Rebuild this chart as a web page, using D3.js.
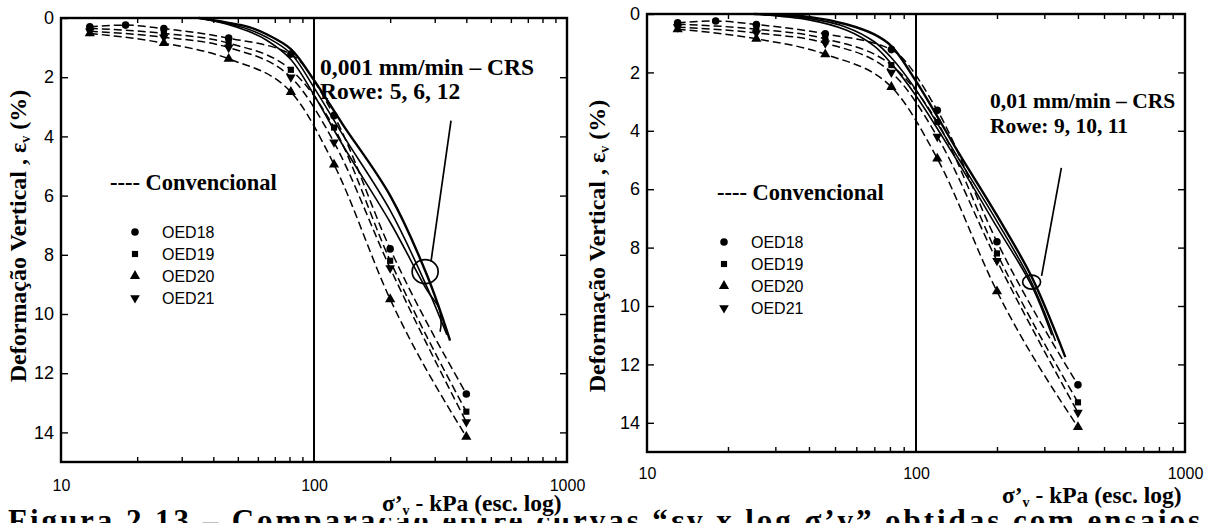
<!DOCTYPE html>
<html><head><meta charset="utf-8">
<script src="https://cdn.jsdelivr.net/npm/d3@7"></script>
<style>body{margin:0;background:#fff} svg{display:block}</style>
</head><body>
<svg id="chart" width="1217" height="523"></svg>
<script>
// conventional tests (same curves in both panels)
var loads = [13, 18, 25.5, 46, 81, 120, 200, 400];
var oed18 = [0.30, 0.24, 0.36, 0.68, 1.22, 3.3, 7.8, 12.7];
var oed19 = [0.35, null, 0.52, 0.85, 1.75, 3.7, 8.2, 13.3];
var oed20 = [0.52, null, 0.85, 1.38, 2.5, 4.95, 9.5, 14.15];
var oed21 = [0.45, null, 0.65, 1.0, 2.0, 4.2, 8.45, 13.65];

// CRS 0,001 mm/min (left)
var rowe5Loads = [35, 45, 55, 65, 81, 100, 130, 200, 280, 345];
var rowe5 = [0, 0.15, 0.3, 0.55, 1.05, 2.1, 3.6, 6.0, 8.7, 10.9];
var rowe6Loads = [35, 45, 55, 65, 81, 100, 130, 200, 280, 335];
var rowe6 = [0, 0.18, 0.38, 0.65, 1.2, 2.35, 3.95, 6.5, 9.1, 10.7];
var rowe12Loads = [35, 45, 55, 65, 81, 100, 130, 200, 280, 312, 318, 315];
var rowe12 = [0, 0.2, 0.45, 0.75, 1.4, 2.6, 4.3, 6.9, 9.2, 9.8, 10.3, 10.6];

// CRS 0,01 mm/min (right)
var rowe9Loads = [25, 40, 55, 70, 81, 100, 145, 200, 269, 359];
var rowe9 = [0, 0.1, 0.35, 0.7, 1.1, 2.3, 4.8, 6.9, 9.0, 11.75];
var rowe10Loads = [25, 40, 55, 70, 81, 100, 145, 200, 269, 330];
var rowe10 = [0, 0.15, 0.45, 0.95, 1.5, 2.6, 5.0, 7.1, 9.2, 11.2];
var rowe11Loads = [25, 40, 55, 70, 81, 100, 145, 200, 269, 320];
var rowe11 = [0, 0.2, 0.55, 1.1, 1.7, 2.8, 5.15, 7.3, 9.3, 11.0];

var yTicks = [0, 2, 4, 6, 8, 10, 12, 14];
var xLabels = [10, 100, 1000];
var xMinor = [20, 30, 40, 50, 60, 70, 80, 90, 200, 300, 400, 500, 600, 700, 800, 900];
var seriesNames = ["OED18", "OED19", "OED20", "OED21"];
var seriesShapes = [d3.symbolCircle, d3.symbolSquare, d3.symbolTriangle, "down"];

var svg = d3.select("#chart");
var serif = "'Liberation Serif', 'Times New Roman', serif";
var sans = "'Liberation Sans', Arial, sans-serif";

function zip(xs, ys) {
    var out = [];
    for (var i = 0; i < xs.length; i++) if (ys[i] != null) out.push([xs[i], ys[i]]);
    return out;
}

function marker(g, shape, cx, cy) {
    if (shape === "down") {
        g.append("path").attr("d", d3.symbol(d3.symbolTriangle, 40)())
            .attr("transform", "translate(" + cx + "," + cy + ") rotate(180)").attr("fill", "#000");
    } else {
        var size = shape === d3.symbolSquare ? 38 : 45;
        g.append("path").attr("d", d3.symbol(shape, size)())
            .attr("transform", "translate(" + cx + "," + cy + ")").attr("fill", "#000");
    }
}

// caption, cut off at the bottom of the picture
svg.append("text").attr("x", 8).attr("y", 531)
    .attr("textLength", 1192).attr("lengthAdjust", "spacing")
    .style("font", "bold 31px " + serif)
    .text("Figura 2.13 – Comparação entre curvas “εv x log σ’v” obtidas com ensaios");

function panel(p) {
    var x = d3.scaleLog().domain([10, 1000]).range([p.x0, p.x1]);
    var y = d3.scaleLinear().domain([0, 15]).range([p.y0, p.y1]);
    var g = svg.append("g");

    // ticks
    g.append("g").attr("transform", "translate(0," + p.y1 + ")")
        .call(d3.axisBottom(x).tickValues(xMinor).tickSize(-5).tickFormat(""));
    g.append("g").attr("transform", "translate(0," + p.y0 + ")")
        .call(d3.axisTop(x).tickValues(xMinor).tickSize(-5).tickFormat(""));
    g.append("g").attr("transform", "translate(0," + p.y1 + ")")
        .call(d3.axisBottom(x).tickValues(xLabels).tickSize(0).tickPadding(p.xPad).tickFormat(d3.format("d")))
        .selectAll("text").style("font", "16px " + sans);
    g.append("g").attr("transform", "translate(" + p.x0 + ",0)")
        .call(d3.axisLeft(y).tickValues(yTicks).tickSize(-7).tickPadding(7))
        .selectAll("text").style("font", "18px " + sans);
    g.append("g").attr("transform", "translate(" + p.x1 + ",0)")
        .call(d3.axisRight(y).tickValues(yTicks.slice(1)).tickSize(-7).tickFormat(""));
    g.selectAll(".domain").remove();
    g.selectAll(".tick line").attr("stroke", "#000").attr("stroke-width", 1.4);

    g.append("rect").attr("x", p.x0).attr("y", p.y0)
        .attr("width", p.x1 - p.x0).attr("height", p.y1 - p.y0)
        .attr("fill", "none").attr("stroke", "#000").attr("stroke-width", 2.4);
    g.append("line").attr("x1", x(100)).attr("x2", x(100)).attr("y1", p.y0).attr("y2", p.y1)
        .attr("stroke", "#000").attr("stroke-width", 2);

    var line = d3.line().x(function (d) { return x(d[0]); }).y(function (d) { return y(d[1]); });

    // conventional, dashed
    [oed18, oed19, oed20, oed21].forEach(function (vals, i) {
        var pts = zip(loads, vals);
        g.append("path").attr("d", line.curve(d3.curveMonotoneX)(pts))
            .attr("fill", "none").attr("stroke", "#000").attr("stroke-width", 1.5)
            .attr("stroke-dasharray", "8,4");
        pts.forEach(function (d) { marker(g, seriesShapes[i], x(d[0]), y(d[1])); });
    });

    // CRS, solid
    p.crs.forEach(function (c, i) {
        g.append("path").attr("d", line.curve(d3.curveCatmullRom)(zip(c[0], c[1])))
            .attr("fill", "none").attr("stroke", "#000").attr("stroke-width", i === 0 ? 2.4 : 1.6);
    });

    // annotation
    g.append("line").attr("x1", x(p.lead[0])).attr("y1", y(p.lead[1]))
        .attr("x2", x(p.lead[2])).attr("y2", y(p.lead[3]))
        .attr("stroke", "#000").attr("stroke-width", 1.7);
    g.append("ellipse").attr("cx", x(p.ell[0])).attr("cy", y(p.ell[1]))
        .attr("rx", p.ell[2]).attr("ry", p.ell[3])
        .attr("fill", "none").attr("stroke", "#000").attr("stroke-width", 1.7);
    g.append("text").attr("x", p.noteX).attr("y", p.noteY).style("font", "bold " + p.noteSize + "px " + serif).text(p.note1);
    g.append("text").attr("x", p.noteX).attr("y", p.noteY + p.noteGap).style("font", "bold " + p.noteSize + "px " + serif).text(p.note2);

    // legend
    g.append("text").attr("x", p.legX).attr("y", p.legY).style("font", "bold 22.5px " + serif)
        .text("---- Convencional");
    seriesNames.forEach(function (n, i) {
        var cy = p.legY + 42 + i * 22;
        marker(g, seriesShapes[i], p.legX + p.mkX, cy);
        g.append("text").attr("x", p.legX + p.mkX + 27).attr("y", cy + 6)
            .style("font", "16px " + sans).text(n);
    });

    // axis titles
    var yt = g.append("text").attr("transform", "translate(" + p.ytX + "," + p.ytY + ") rotate(-90)")
        .attr("text-anchor", "middle").style("font", "bold 24px " + serif);
    yt.append("tspan").text("Deformação Vertical , ε");
    yt.append("tspan").attr("dy", 4).style("font-size", "14px").text("v");
    yt.append("tspan").attr("dy", -4).text(" (%)");

    if (p.whiteBox) {
        g.append("rect").attr("x", p.xtX - 4).attr("y", p.xtY - 19).attr("width", 190).attr("height", 26).attr("fill", "#fff");
    }
    var xt = g.append("text").attr("x", p.xtX).attr("y", p.xtY).style("font", "bold 23.5px " + serif);
    xt.append("tspan").text("σ’");
    xt.append("tspan").attr("dy", 4).style("font-size", "14px").text("v");
    xt.append("tspan").attr("dy", -4).text(" - kPa (esc. log)");
}

panel({
    x0: 61, x1: 567, y0: 18, y1: 462, xPad: 18,
    crs: [[rowe5Loads, rowe5], [rowe6Loads, rowe6], [rowe12Loads, rowe12]],
    lead: [348, 3.47, 290, 8.23], ell: [275, 8.57, 13, 12],
    noteX: 320, noteY: 75, noteSize: 23.5, noteGap: 24, note1: "0,001 mm/min – CRS", note2: "Rowe: 5, 6, 12",
    legX: 110, legY: 190, mkX: 25,
    ytX: 26, ytY: 236, xtX: 382, xtY: 511, whiteBox: true
});

panel({
    x0: 647, x1: 1185, y0: 14, y1: 452, xPad: 16,
    crs: [[rowe9Loads, rowe9], [rowe10Loads, rowe10], [rowe11Loads, rowe11]],
    lead: [347, 5.27, 293, 8.97], ell: [269, 9.18, 9, 7],
    noteX: 990, noteY: 108, noteSize: 21.5, noteGap: 25, note1: "0,01 mm/min – CRS", note2: "Rowe: 9, 10, 11",
    legX: 717, legY: 200, mkX: 7,
    ytX: 605, ytY: 246, xtX: 1002, xtY: 503, whiteBox: false
});
</script>
</body></html>
